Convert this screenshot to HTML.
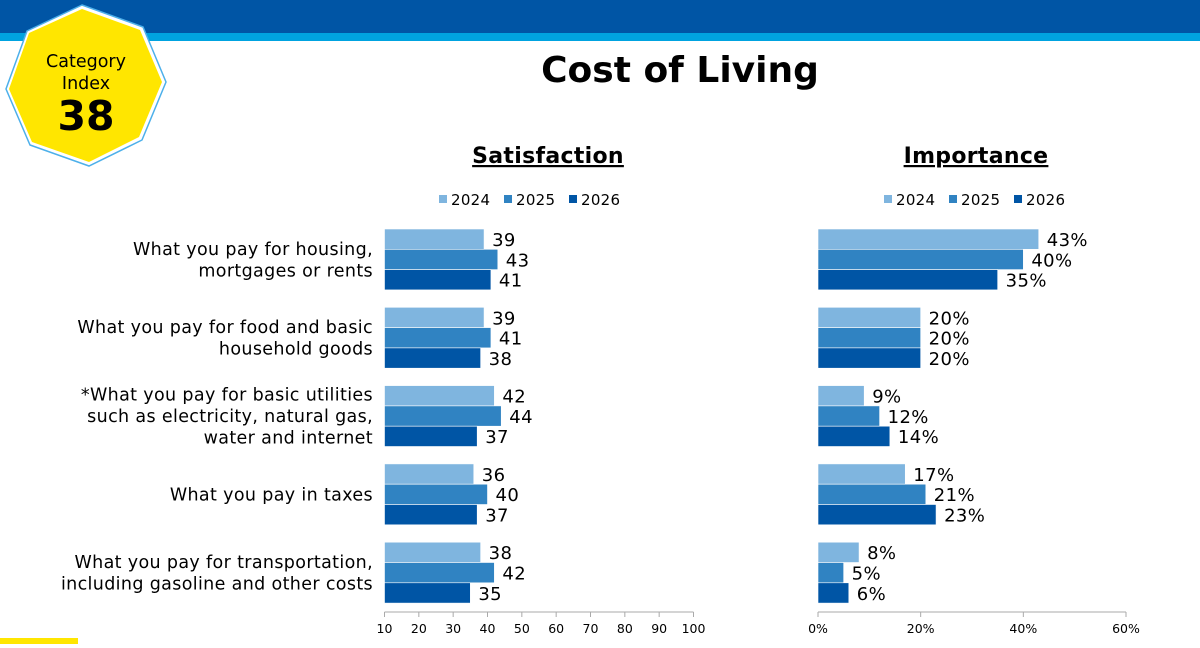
<!DOCTYPE html>
<html><head><meta charset="utf-8"><style>
body{margin:0;width:1200px;height:644px;overflow:hidden;background:#fff;font-family:"DejaVu Sans","Liberation Sans",sans-serif;}
svg text{font-family:"DejaVu Sans","Liberation Sans",sans-serif;}
</style></head><body>
<svg id="c" width="1200" height="644" xmlns="http://www.w3.org/2000/svg">
<rect x="0" y="0" width="1200" height="33" fill="#0055a5"/>
<rect x="0" y="33" width="1200" height="8" fill="#00a3e0"/>
<rect x="0" y="638" width="78" height="6" fill="#ffe600"/>
<g>
<polygon points="82,5 143,27 166,82 142,140 89,166 30,145 6,89 27,31" fill="#fff" stroke="#4db0ea" stroke-width="1.5"/>
<polygon points="82,9 140,30 162,82 139,137 89,162 32,142 9,89 29,33" fill="#ffe600"/>
<text x="86" y="67" font-size="17.5" text-anchor="middle">Category</text>
<text x="86" y="89" font-size="17.5" text-anchor="middle">Index</text>
<text x="86" y="130" font-size="41" font-weight="bold" text-anchor="middle">38</text>
</g>
<text x="680" y="82" font-size="36" font-weight="bold" text-anchor="middle">Cost of Living</text>
<text x="548" y="163" font-size="22" font-weight="bold" text-anchor="middle" text-decoration="underline" letter-spacing="0.3">Satisfaction</text>
<text x="976" y="163" font-size="22" font-weight="bold" text-anchor="middle" text-decoration="underline" letter-spacing="0.3">Importance</text>
<g id="g"></g>
</svg>
<script>
const categories=[["What you pay for housing,","mortgages or rents"],["What you pay for food and basic","household goods"],["*What you pay for basic utilities","such as electricity, natural gas,","water and internet"],["What you pay in taxes"],["What you pay for transportation,","including gasoline and other costs"]];
const years=["2024","2025","2026"];
const colors=["#7fb5df","#3083c2","#0055a5"];
const sat2024=[39,39,42,36,38];
const sat2025=[43,41,44,40,42];
const sat2026=[41,38,37,37,35];
const imp2024=[43,20,9,17,8];
const imp2025=[40,20,12,21,5];
const imp2026=[35,20,14,23,6];
const satTicks=[10,20,30,40,50,60,70,80,90,100];
const impTicks=[0,20,40,60];
const NS="http://www.w3.org/2000/svg";
const g=document.getElementById('g');
function mk(t,a,txt){const e=document.createElementNS(NS,t);for(const k in a)e.setAttribute(k,a[k]);if(txt!==undefined)e.textContent=txt;g.appendChild(e);return e;}
const sx=v=>384.5+(v-10)*(309/90);
const ix=v=>818+v*(308/60);
const gy=i=>229+i*78.3;
const barH=20.3;
const sat=[sat2024,sat2025,sat2026],imp=[imp2024,imp2025,imp2026];
categories.forEach((lines,i)=>{
  const cy=gy(i)+30.5, n=lines.length, lh=21.5;
  lines.forEach((l,k)=>{
    const t=mk('text',{x:373,y:cy+(k-(n-1)/2)*lh+6,'font-size':17.5,'letter-spacing':0.35,'text-anchor':'end'},l);
    
    
  });
  for(let s=0;s<3;s++){
    const y=gy(i)+s*barH, v=sat[s][i], w=imp[s][i];
    const r=mk('rect',{x:sx(10),y:y,width:sx(v)-sx(10),height:barH,fill:colors[s],stroke:'#fff','stroke-width':0.6});
    
    
    const t=mk('text',{x:sx(v)+8,y:y+17,'font-size':18,'letter-spacing':0.4},String(v));
    
    
    const r2=mk('rect',{x:ix(0),y:y,width:ix(w)-ix(0),height:barH,fill:colors[s],stroke:'#fff','stroke-width':0.6});
    
    
    const t2=mk('text',{x:ix(w)+8,y:y+17,'font-size':18,'letter-spacing':0.4},w+'%');
    
    
  }
});
function axis(f,ticks,fmt,name){
  const a=mk('line',{x1:f(ticks[0]),x2:f(ticks[ticks.length-1]),y1:612,y2:612,stroke:'#aaa'});
  
  
  ticks.forEach(v=>{
    mk('line',{x1:f(v),x2:f(v),y1:612,y2:617,stroke:'#aaa'});
    const t=mk('text',{x:f(v),y:633,'font-size':12.5,'text-anchor':'middle'},fmt(v));
    
    
  });
}
axis(sx,satTicks,v=>String(v),'satisfaction');
axis(ix,impTicks,v=>v+'%','importance');
function legend(x0,name){
  years.forEach((yr,s)=>{
    const x=x0+s*65;
    const r=mk('rect',{x:x,y:195,width:8,height:8,fill:colors[s]});
    
    
    const t=mk('text',{x:x+12,y:205,'font-size':15,'letter-spacing':0.3},yr);
    
    
  });
}
legend(439,'satisfaction');
legend(884,'importance');
</script>
</body></html>
